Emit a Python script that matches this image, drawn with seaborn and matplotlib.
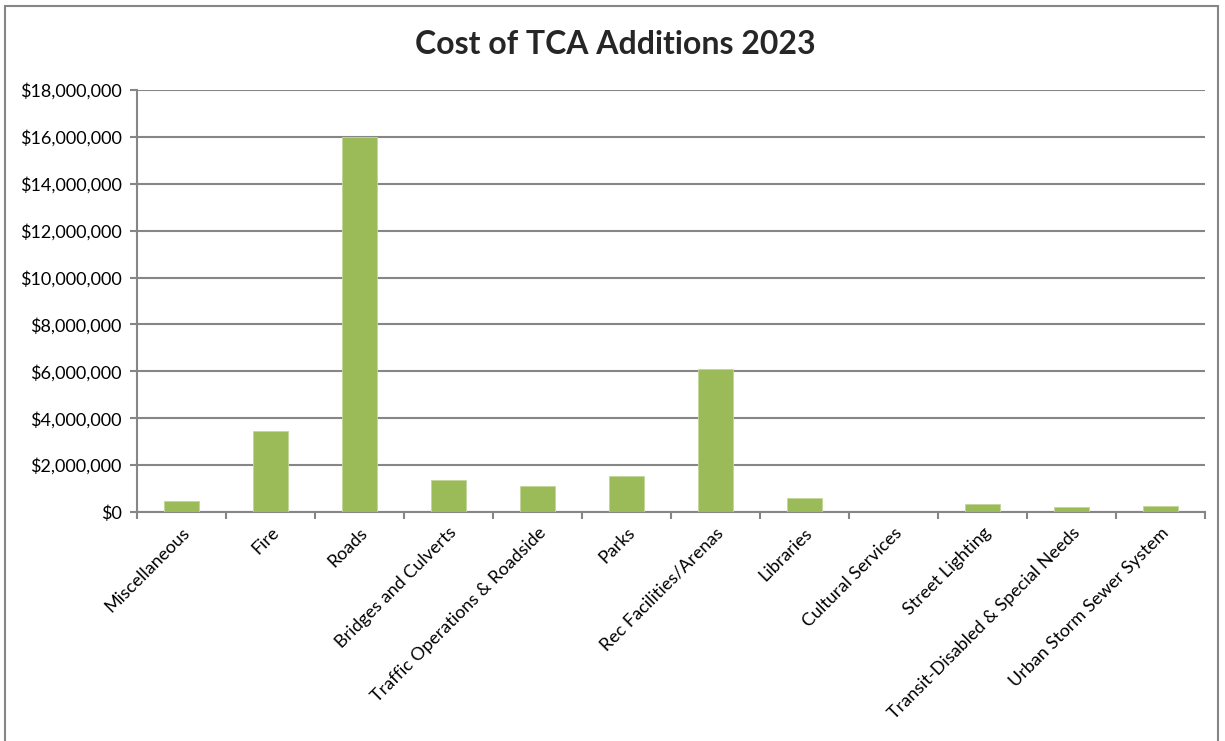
import matplotlib
matplotlib.use('Agg')
import matplotlib.pyplot as plt
import seaborn as sns
import pandas as pd
from matplotlib.ticker import FuncFormatter, FixedLocator, NullFormatter
from matplotlib.patches import Rectangle

# values
categories = ['Miscellaneous', 'Fire', 'Roads', 'Bridges and Culverts',
              'Traffic Operations & Roadside', 'Parks', 'Rec Facilities/Arenas',
              'Libraries', 'Cultural Services', 'Street Lighting',
              'Transit-Disabled & Special Needs', 'Urban Storm Sewer System']
costs = [485000, 3440000, 15990000, 1350000, 1090000, 1550000, 6080000,
         580000, 0, 345000, 215000, 260000]

df = pd.DataFrame({'Category': categories, 'Cost': costs})

sns.set_style('white')
plt.rcParams['font.family'] = ['Lato', 'DejaVu Sans']

fig = plt.figure(figsize=(12.25, 7.41), dpi=100)
ax = fig.add_axes([137 / 1225, 1 - 512 / 741, (1205 - 137) / 1225, (512 - 90) / 741])

sns.barplot(data=df, x='Category', y='Cost', color='#9BBB59', saturation=1, width=0.4,
            edgecolor='#C3D69B', linewidth=0.6, ax=ax, zorder=3)

grey = '#868686'
ax.set_ylim(0, 18000000)
ax.set_xlim(-0.5, len(categories) - 0.5)
ax.set_yticks(range(0, 18000001, 2000000))
ax.yaxis.set_major_formatter(FuncFormatter(lambda v, p: '${:,.0f}'.format(v)))
ax.grid(axis='y', color=grey, linewidth=1.5, zorder=0)
ax.set_axisbelow(True)

# category labels at centres, tick marks between categories
ax.set_xticks(range(len(categories)))
ax.set_xticklabels(categories, rotation=45, ha='right', rotation_mode='anchor')
ax.tick_params(axis='x', which='major', length=0, pad=9, labelsize=13, labelcolor='black')
ax.xaxis.set_minor_locator(FixedLocator([i - 0.5 for i in range(len(categories) + 1)]))
ax.xaxis.set_minor_formatter(NullFormatter())
ax.tick_params(axis='x', which='minor', length=5, width=1.5, color=grey, direction='out', bottom=True)
ax.tick_params(axis='y', length=5, width=1.5, color=grey, direction='out', left=True,
               labelsize=13, labelcolor='black', pad=6)

for s in ['top', 'right']:
    ax.spines[s].set_visible(False)
for s in ['left', 'bottom']:
    ax.spines[s].set_color(grey)
    ax.spines[s].set_linewidth(1.5)

ax.set_xlabel('')
ax.set_ylabel('')
fig.text(615 / 1225, 1 - 45 / 741, 'Cost of TCA Additions 2023', ha='center', va='center',
         fontsize=23, fontweight='bold')

fig.patches.append(Rectangle((5 / 1225, -0.05), 1213 / 1225, 1 - 6 / 741 + 0.05,
                             transform=fig.transFigure, fill=False, edgecolor=grey,
                             linewidth=1.5))

fig.savefig('out.png', dpi=100)
